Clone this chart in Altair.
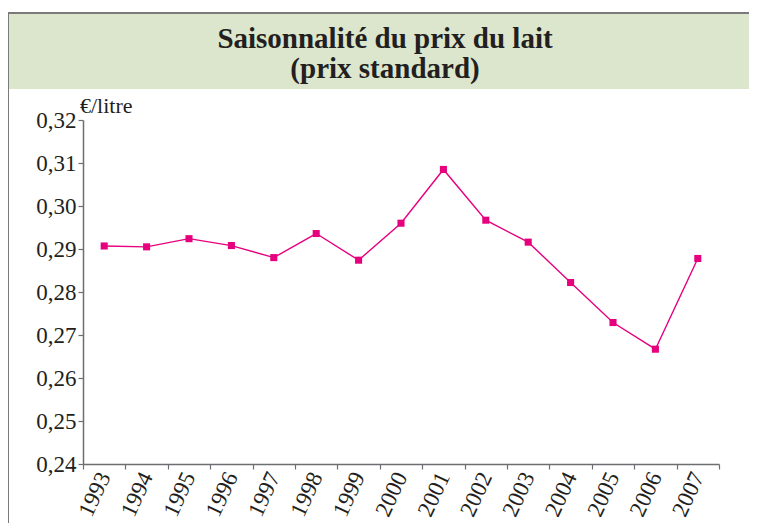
import altair as alt
import pandas as pd

years = ["1993", "1994", "1995", "1996", "1997", "1998", "1999", "2000",
         "2001", "2002", "2003", "2004", "2005", "2006", "2007"]
prices = [0.2907, 0.2905, 0.2924, 0.2908, 0.2880, 0.2936, 0.2874, 0.2960,
          0.3085, 0.2967, 0.2916, 0.2822, 0.2729, 0.2667, 0.2878]
title_lines = ["Saisonnalité du prix du lait", "(prix standard)"]
unit_label = "€/litre"

df = pd.DataFrame({"annee": years, "prix": prices})

FONT = "Liberation Serif"
TXT = "#231f20"
PINK = "#e6007e"
AXC = "#6d6e71"

x_enc = alt.X("annee:N", sort=years, title=None,
              scale=alt.Scale(paddingInner=0, paddingOuter=0),
              axis=alt.Axis(labelAngle=295, labelAlign="right", labelBaseline="middle",
                            labelFont=FONT, labelFontSize=23, labelColor=TXT,
                            labelPadding=4, tickBand="extent", tickSize=5,
                            tickColor=AXC, domainColor=AXC, domainWidth=1.5,
                            tickWidth=1.2, grid=False, labelOverlap=False, zindex=2))
y_enc = alt.Y("prix:Q", title=None,
              scale=alt.Scale(domain=[0.24, 0.32], nice=False, zero=False),
              axis=alt.Axis(values=[0.24, 0.25, 0.26, 0.27, 0.28, 0.29, 0.30, 0.31, 0.32],
                            labelExpr="replace(format(datum.value, '.2f'), '.', ',')",
                            labelFont=FONT, labelFontSize=23, labelColor=TXT,
                            labelPadding=2, tickSize=5, tickColor=AXC,
                            domainColor=AXC, domainWidth=1.5, tickWidth=1.2, grid=False,
                            zindex=2))

base = alt.Chart(df)

frame = alt.Chart(pd.DataFrame({"k": [0]})).mark_rect(
    fill="white", fillOpacity=0, stroke="#7a7a7a", strokeWidth=2
).encode(x=alt.value(-75), x2=alt.value(770), y=alt.value(-107), y2=alt.value(500))

band = alt.Chart(pd.DataFrame({"k": [0]})).mark_rect(
    fill="#dbe6cc"
).encode(x=alt.value(-74), x2=alt.value(770), y=alt.value(-106), y2=alt.value(-31))

title_df = pd.DataFrame({"t": title_lines, "i": [0, 1]})
t1 = alt.Chart(title_df[title_df.i == 0]).mark_text(
    font=FONT, fontSize=29, fontWeight="bold", color=TXT, align="center", baseline="alphabetic"
).encode(text="t:N", x=alt.value(302), y=alt.value(-72))
t2 = alt.Chart(title_df[title_df.i == 1]).mark_text(
    font=FONT, fontSize=29, fontWeight="bold", color=TXT, align="center", baseline="alphabetic"
).encode(text="t:N", x=alt.value(302), y=alt.value(-42))

unit = alt.Chart(pd.DataFrame({"u": [unit_label]})).mark_text(
    font=FONT, fontSize=22, color=TXT, align="left", baseline="alphabetic"
).encode(text="u:N", x=alt.value(-3), y=alt.value(-7))

line = base.mark_line(color=PINK, strokeWidth=1.4).encode(x=x_enc, y=y_enc)
pts = base.mark_square(color=PINK, size=50, opacity=1).encode(x=x_enc, y=y_enc)

chart = alt.layer(frame, band, t1, t2, unit, line, pts).properties(
    width=636, height=344,
    autosize=alt.AutoSizeParams(type="none"),
    padding={"left": 75, "top": 112, "right": 30, "bottom": 59},
    background="white",
).configure_view(stroke=None)

chart.save("out.html", embed_options={"renderer": "svg", "actions": False})
